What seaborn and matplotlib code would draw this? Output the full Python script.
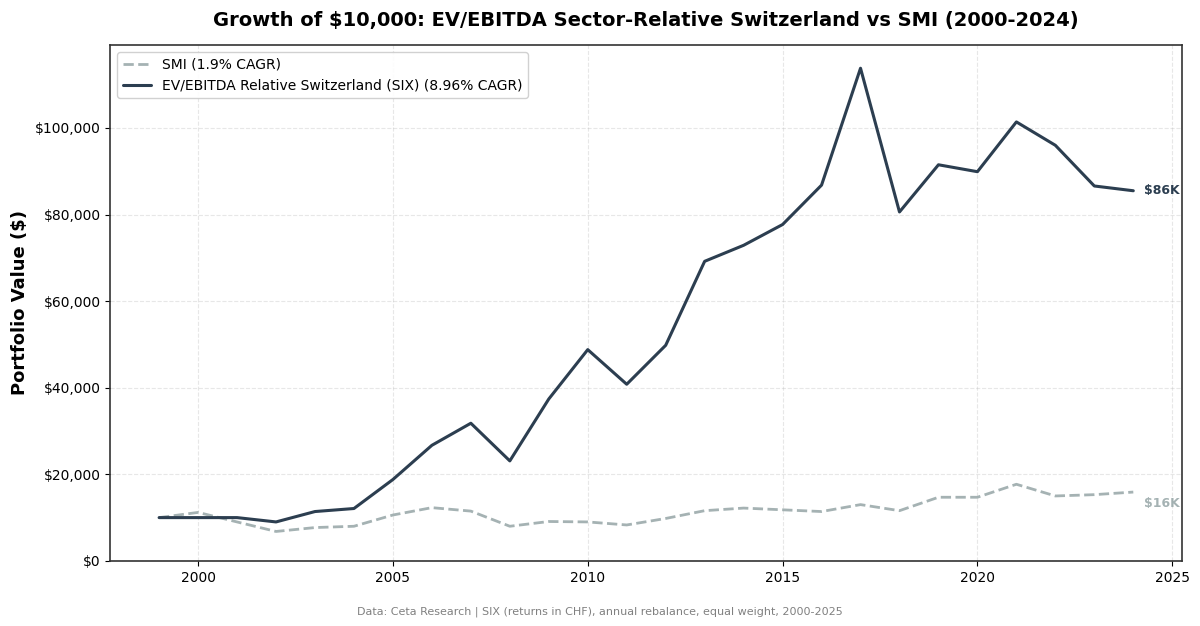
import pandas as pd
import matplotlib.pyplot as plt
import seaborn as sns
from matplotlib.ticker import FuncFormatter

# data
years = list(range(1999, 2025))
strategy = [10000, 10000, 10000, 9000, 11400, 12100, 18800, 26700, 31800, 23100,
            37400, 48800, 40800, 49800, 69200, 72900, 77700, 86800, 113800, 80600,
            91500, 89900, 101400, 96000, 86600, 85500]
smi = [10000, 11200, 9000, 6800, 7700, 8000, 10600, 12300, 11500, 8000,
       9100, 9000, 8300, 9800, 11600, 12200, 11800, 11400, 13000, 11600,
       14700, 14700, 17700, 15000, 15300, 15900]

strat_label = "EV/EBITDA Relative Switzerland (SIX) (8.96% CAGR)"
smi_label = "SMI (1.9% CAGR)"

df = pd.DataFrame({"Year": years, "Strategy": strategy, "SMI": smi})

sns.set_style("white")
plt.rcParams['font.family'] = ['DejaVu Sans']
plt.rcParams['text.color'] = 'black'
plt.rcParams['axes.labelcolor'] = 'black'
plt.rcParams['xtick.color'] = 'black'
plt.rcParams['ytick.color'] = 'black'

fig, ax = plt.subplots(figsize=(12, 6.26), dpi=100)
fig.subplots_adjust(left=0.092, right=0.985, top=0.928, bottom=0.104)

sns.lineplot(data=df, x="Year", y="SMI", ax=ax, color="#95a5a6", linewidth=2,
             linestyle="--", alpha=0.85, label=smi_label)
sns.lineplot(data=df, x="Year", y="Strategy", ax=ax, color="#2c3e50", linewidth=2.2,
             label=strat_label)

# end labels
ax.annotate(f"${strategy[-1] / 1000:.0f}K", xy=(years[-1], strategy[-1]),
            xytext=(8, 0), textcoords="offset points", va="center",
            fontsize=9, fontweight="bold", color="#2c3e50")
ax.annotate(f"${smi[-1] / 1000:.0f}K", xy=(years[-1], smi[-1]),
            xytext=(8, -8), textcoords="offset points", va="center",
            fontsize=9, fontweight="bold", color="#95a5a6", alpha=0.85)

ax.set_ylim(bottom=0)
ax.yaxis.set_major_formatter(FuncFormatter(lambda v, p: f"${v:,.0f}"))
ax.set_title("Growth of $10,000: EV/EBITDA Sector-Relative Switzerland vs SMI (2000-2024)",
             fontsize=14, fontweight="bold", pad=14)
ax.set_xlabel("")
ax.set_ylabel("Portfolio Value ($)", fontsize=13, fontweight="bold")
ax.grid(True, linestyle="--", color="#b0b0b0", alpha=0.3)
ax.tick_params(axis="both", labelsize=10, length=3.5, left=True, bottom=True)
for s in ax.spines.values():
    s.set_color("#333333")
    s.set_linewidth(1.2)

ax.legend(loc="upper left", fontsize=10, framealpha=0.9)

fig.text(0.5, 0.018, "Data: Ceta Research | SIX (returns in CHF), annual rebalance, equal weight, 2000-2025",
         ha="center", fontsize=8, color="gray")

plt.savefig("out.png", dpi=100)
